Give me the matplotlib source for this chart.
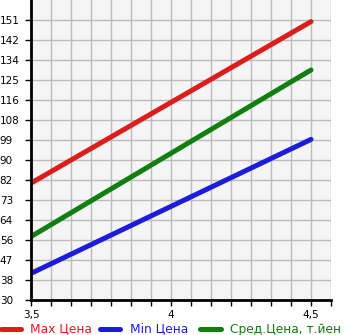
import matplotlib.pyplot as plt
from matplotlib.lines import Line2D

x = [3.5, 4.5]
max_price = [80.5, 150.3]
min_price = [41.5, 99.4]
avg_price = [57.4, 129.4]
names = ["Max Цена", "Min Цена", "Сред.Цена, т.йен"]
colors = ["#dd1c1c", "#1c1cdd", "#0f7f0f"]

ymin = 30
step = 121 / 14
ytick_vals = [ymin + i * step for i in range(15)]
ytick_labels = ["30", "38", "47", "56", "64", "73", "82", "90", "99", "108",
                "116", "125", "134", "142", "151"]

W, H = 345, 335
fig = plt.figure(figsize=(W / 100, H / 100), dpi=100)
ax = fig.add_axes([31 / W, 35 / H, 300 / W, 300 / H])
ax.set_facecolor("#f5f5f5")

for ys, c, n in zip([max_price, min_price, avg_price], colors, names):
    ax.plot(x, ys, color=c, lw=3.6, solid_capstyle="round", label=n)

xgrid = [3.5 + i / 14 for i in range(16)]
ax.set_xlim(3.5, 3.5 + 15 / 14)
ax.set_ylim(ymin, ymin + 15 * step)
ax.set_xticks(xgrid, minor=True)
ax.set_xticks([3.5, 4, 4.5])
ax.set_xticklabels(["3,5", "4", "4,5"], fontsize=7.5)
ax.set_yticks(ytick_vals)
ax.set_yticklabels(ytick_labels, fontsize=7.5, ha="left")
ax.grid(True, which="both", color="#bbbbbb", lw=1)
ax.set_axisbelow(True)
ax.tick_params(axis="y", length=4, width=1, pad=18.5)
ax.tick_params(axis="x", which="both", length=4, width=1, pad=3)
for s in ["top", "right"]:
    ax.spines[s].set_visible(False)
for s in ["left", "bottom"]:
    ax.spines[s].set_linewidth(2)

# legend drawn by hand so the items sit where they do in the original
handle_x = [(1, 21), (100, 120), (200, 221)]
text_x = [30, 130, 230]
ly = (H - 329) / H
for (x0, x1), tx, c, n in zip(handle_x, text_x, colors, names):
    fig.add_artist(Line2D([x0 / W, x1 / W], [ly, ly], color=c, lw=3.6,
                          solid_capstyle="round", transform=fig.transFigure))
    fig.text(tx / W, ly, n, color=c, fontsize=8.8, va="center", ha="left")

fig.savefig("out.png", dpi=100)
